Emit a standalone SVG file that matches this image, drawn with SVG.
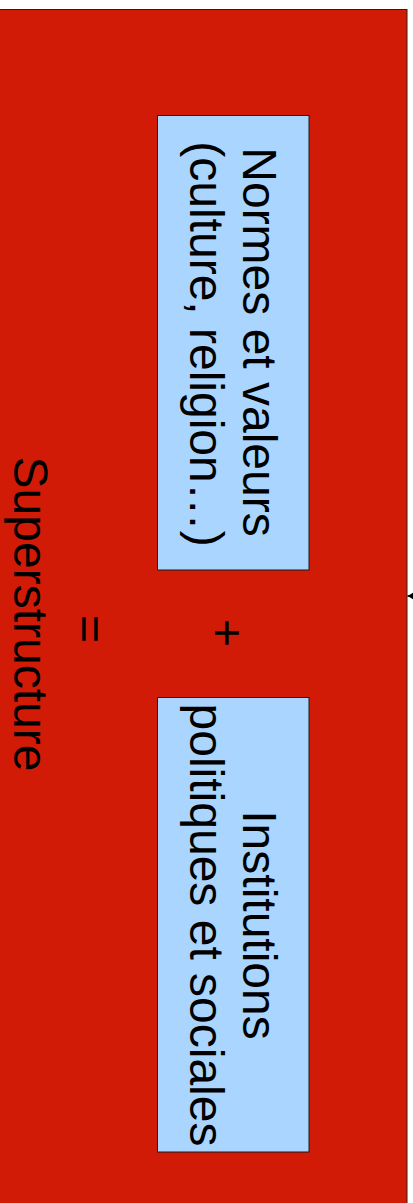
<svg xmlns="http://www.w3.org/2000/svg" width="413" height="1203" viewBox="0 0 413 1203">
<style>
.bg{fill:#D11B07;stroke:#3a1a10;stroke-width:1}
.box{fill:#A9D5FF;stroke:#1a1a1a;stroke-width:1}
.t{font-family:"Liberation Sans",Arial,sans-serif;font-size:48px;fill:#000;text-anchor:middle}
.conn{stroke:#000;stroke-width:1.5;fill:none}
</style>
<defs>
<marker id="ah" viewBox="0 0 14 16" refX="14" refY="8" markerWidth="14" markerHeight="16" markerUnits="userSpaceOnUse" orient="auto">
<path d="M0,0 L14,8 L0,16 Z" fill="#000"/>
</marker>
</defs>
<g id="superstructure">
<rect class="bg" x="-1" y="9.5" width="408" height="1200"/>
<text class="t" x="13.5" y="614" transform="rotate(90 13.5 614)">Superstructure</text>
</g>
<g id="equals">
<text class="t" x="73.5" y="629" transform="rotate(90 73.5 629)">=</text>
</g>
<g id="plus">
<text class="t" x="210.5" y="633" transform="rotate(90 210.5 633)">+</text>
</g>
<g id="normes">
<rect class="box" x="157.5" y="115.5" width="151.5" height="454.5"/>
<text class="t" x="243" y="342" transform="rotate(90 243 342)">Normes et valeurs</text>
<text class="t" x="190" y="344" transform="rotate(90 190 344)">(culture, religion…)</text>
</g>
<g id="institutions">
<rect class="box" x="157.5" y="697.5" width="151.5" height="454.5"/>
<text class="t" x="243" y="925" transform="rotate(90 243 925)">Institutions</text>
<text class="t" x="190" y="925" transform="rotate(90 190 925)">politiques et sociales</text>
</g>
<g id="connectors">
<path class="conn" d="M440,596 L407.5,596" marker-end="url(#ah)"/>
</g>
</svg>
